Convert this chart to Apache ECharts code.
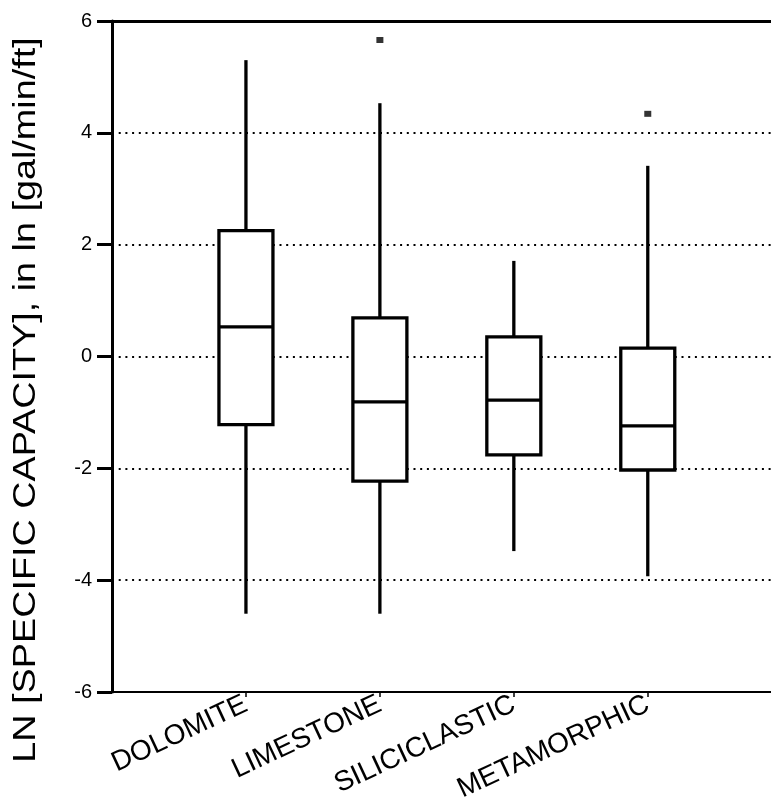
<!DOCTYPE html>
<html>
<head>
<meta charset="utf-8">
<script src="https://cdn.jsdelivr.net/npm/echarts@6/dist/echarts.min.js"></script>
<style>
html,body{margin:0;padding:0;background:#fff;}
#c{width:771px;height:806px;}
</style>
</head>
<body>
<div id="c"></div>
<script>
const categories = ['DOLOMITE', 'LIMESTONE', 'SILICICLASTIC', 'METAMORPHIC'];
const whiskerLow = [-4.60, -4.60, -3.48, -3.93];
const q1 = [-1.22, -2.23, -1.76, -2.03];
const median = [0.53, -0.81, -0.78, -1.24];
const q3 = [2.25, 0.69, 0.35, 0.15];
const whiskerHigh = [5.30, 4.53, 1.71, 3.41];
const outlierCategory = ['LIMESTONE', 'METAMORPHIC'];
const outlierValue = [5.66, 4.34];
const yTicks = [-6, -4, -2, 0, 2, 4, 6];
const yTitle = 'LN [SPECIFIC CAPACITY], in ln [gal/min/ft]';

const FONT = 'Liberation Sans';
const X_MAX = 4.92;

const boxData = categories.map((c, i) => [i + 1, whiskerLow[i], q1[i], median[i], q3[i], whiskerHigh[i]]);
const outlierData = outlierCategory.map((c, i) => [categories.indexOf(c) + 1, outlierValue[i]]);

const chart = echarts.init(document.getElementById('c'), null, {renderer: 'canvas'});

function renderBox(params, api) {
  const x = api.value(0);
  const pLow = api.coord([x, api.value(1)]);
  const pQ1 = api.coord([x, api.value(2)]);
  const pMed = api.coord([x, api.value(3)]);
  const pQ3 = api.coord([x, api.value(4)]);
  const pHigh = api.coord([x, api.value(5)]);
  const half = 27;
  const cx = pMed[0];
  const stroke = {stroke: '#000', lineWidth: 3.3, fill: null};
  return {
    type: 'group',
    children: [
      {type: 'line', shape: {x1: cx, y1: pQ3[1], x2: cx, y2: pHigh[1]}, style: stroke},
      {type: 'line', shape: {x1: cx, y1: pQ1[1], x2: cx, y2: pLow[1]}, style: stroke},
      {type: 'rect', shape: {x: cx - half, y: pQ3[1], width: half * 2, height: pQ1[1] - pQ3[1]},
        style: {stroke: '#000', lineWidth: 3.3, fill: '#fff'}},
      {type: 'line', shape: {x1: cx - half, y1: pMed[1], x2: cx + half, y2: pMed[1]}, style: stroke}
    ]
  };
}

chart.setOption({
  animation: false,
  backgroundColor: '#fff',
  grid: {left: 112, top: 21, right: 0, bottom: 114, containLabel: false},
  xAxis: [{
    type: 'value',
    min: 0, max: X_MAX, interval: 1,
    position: 'bottom',
    axisLine: {onZero: false, lineStyle: {color: '#000', width: 2}},
    axisTick: {show: true, length: 5, lineStyle: {color: '#000', width: 1.5}},
    axisLabel: {
      rotate: 25, margin: 11, color: '#000',
      fontFamily: FONT, fontSize: 28,
      showMinLabel: false, showMaxLabel: false,
      formatter: function (v) { return categories[v - 1] || ''; }
    },
    splitLine: {show: false}
  }, {
    type: 'value',
    min: 0, max: X_MAX, interval: 1,
    position: 'top',
    axisLine: {onZero: false, lineStyle: {color: '#000', width: 3}},
    axisTick: {show: false},
    axisLabel: {show: false},
    splitLine: {show: false}
  }],
  yAxis: {
    type: 'value',
    min: yTicks[0], max: yTicks[yTicks.length - 1], interval: 2,
    axisLine: {show: true, onZero: false, lineStyle: {color: '#000', width: 3}},
    axisTick: {show: true, length: 15, inside: false, lineStyle: {color: '#000', width: 3}},
    axisLabel: {margin: 20, color: '#000', fontFamily: FONT, fontSize: 20},
    splitLine: {show: true, lineStyle: {color: '#000', width: 2, type: [2, 4.7]}}
  },
  graphic: [{
    type: 'text',
    x: 26, y: 400,
    rotation: Math.PI / 2,
    scaleX: 1.18,
    style: {
      text: yTitle, fill: '#000', font: '32px "Liberation Sans"',
      textAlign: 'center', textVerticalAlign: 'middle'
    }
  }],
  series: [{
    type: 'custom',
    xAxisIndex: 0,
    renderItem: renderBox,
    encode: {x: 0, y: [1, 2, 3, 4, 5]},
    data: boxData,
    z: 3
  }, {
    type: 'scatter',
    xAxisIndex: 0,
    symbol: 'rect',
    symbolSize: [7, 6],
    itemStyle: {color: '#000'},
    data: outlierData,
    z: 4
  }]
});
</script>
</body>
</html>
